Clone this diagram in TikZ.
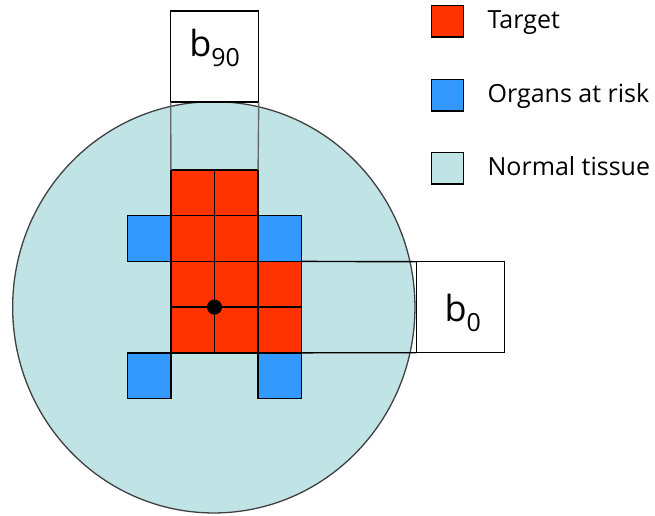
\documentclass[tikz,border=0pt]{standalone}
\usepackage{fontspec}
\setmainfont{Open Sans}
\usetikzlibrary{positioning,calc,shapes.geometric}
\definecolor{tgtred}{RGB}{255,51,0}
\definecolor{oarblue}{RGB}{51,153,255}
\definecolor{tissue}{RGB}{192,228,230}
\newcommand{\bsub}[1]{b\raisebox{-10pt}{\fontsize{25}{25}\selectfont #1}}
\tikzset{
  cell/.style={draw=black, line width=1.5pt, minimum width=43.6pt, minimum height=45.7pt,
               inner sep=0pt, outer sep=0pt, anchor=north west},
  tgt/.style={cell, fill=tgtred},
  oar/.style={cell, fill=oarblue},
  beambox/.style={draw=black, line width=1.5pt, fill=white, inner sep=0pt, outer sep=0pt,
                  minimum width=88pt, minimum height=91pt, anchor=north west},
  beamline/.style={line width=1.4pt},
  blab/.style={font=\fontsize{36}{36}\selectfont, inner sep=0pt, anchor=base},
  legbox/.style={draw=black, line width=1.4pt, minimum size=31.6pt, inner sep=0pt},
  legtxt/.style={font=\fontsize{25}{25}\selectfont, inner sep=0pt, anchor=base west},
}

\begin{document}
\begin{tikzpicture}[x=1pt, y=-1pt]
    \useasboundingbox (0,0) rectangle (655,515);
    \fill[white] (0,0) rectangle (655,515);
    % patient body
    \node[ellipse, draw=black!75, line width=1.3pt, fill=tissue, minimum width=402.3pt,
          minimum height=411.3pt, inner sep=0pt] (body) at (213.8,307.3) {};
    % target and organs at risk
    \foreach \c/\r in {1/0,2/0,1/1,2/1,1/2,2/2,3/2,1/3,2/3,3/3}{
      \node[tgt] (t\c\r) at ({127.3+43.6*\c},{170+45.7*\r}) {};}
    \foreach \c/\r in {0/1,3/1,0/4,3/4}{
      \node[oar] (o\c\r) at ({127.3+43.6*\c},{170+45.7*\r}) {};}
    \draw[line width=2.6pt] (t32.south west) -- (t32.south east);
    \node[circle, fill=black, inner sep=0pt, minimum size=15pt] (iso) at (t12.south east) {};
    % beams
    \node[beambox] (b90) at (170.7,11) {};
    \node[blab] at (b90.center) {\bsub{90}};
    \node[beambox] (b0) at (416.7,261.7) {};
    \node[blab] at ([xshift=2pt,yshift=-14pt]b0.center) {\bsub{0}};
    \draw[beamline, black!60] (b90.south west) -- (t10.north west);
    \draw[beamline, black!60] (b90.south east) -- (t20.north east);
    \draw[beamline] (t32.north east) -- (b0.north west);
    \draw[beamline] (t33.south east) -- (b0.south west);
    % legend
    \foreach \n/\col/\y/\txt in {lt/tgtred/21.3/Target, lo/oarblue/95/Organs at risk, ln/tissue/168/Normal tissue}{
      \node[legbox, fill=\col] (\n) at (447.5,\y) {};
      \node[legtxt] at ([xshift=23.4pt,yshift=-7.5pt]\n.east) {\txt};}
\end{tikzpicture}
\end{document}
